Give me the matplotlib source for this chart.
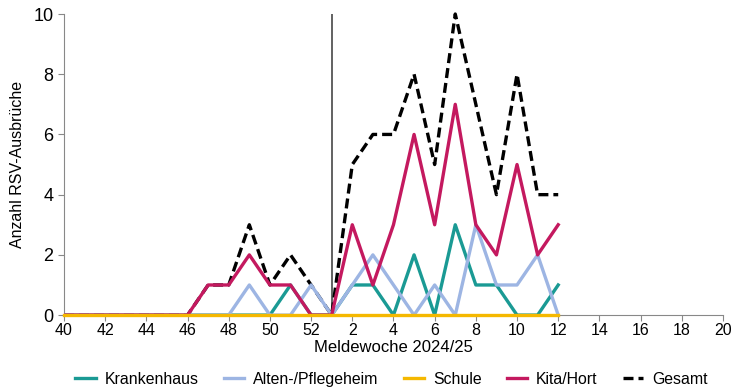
import numpy as np
import matplotlib
matplotlib.use("Agg")
import matplotlib.pyplot as plt

plt.rcParams["font.family"] = ["Liberation Sans", "DejaVu Sans"]

weeks = list(range(40, 53)) + list(range(1, 21))
tick_labels = [str(w) if w % 2 == 0 else "" for w in weeks]

# values from week 40 to week 12
krankenhaus = [0, 0, 0, 0, 0, 0, 0, 0, 0, 0, 0, 1, 0, 0, 1, 1, 0, 2, 0, 3, 1, 1, 0, 0, 1]
alten = [0, 0, 0, 0, 0, 0, 0, 0, 0, 1, 0, 0, 1, 0, 1, 2, 1, 0, 1, 0, 3, 1, 1, 2, 0]
schule = [0] * 25
kita = [0, 0, 0, 0, 0, 0, 0, 1, 1, 2, 1, 1, 0, 0, 3, 1, 3, 6, 3, 7, 3, 2, 5, 2, 3]
gesamt = [0, 0, 0, 0, 0, 0, 0, 1, 1, 3, 1, 2, 1, 0, 5, 6, 6, 8, 5, 10, 7, 4, 8, 4, 4]

x = np.arange(len(gesamt))
fig = plt.figure(figsize=(7.33, 3.89), dpi=100)
ax = fig.add_axes([0.0873, 0.19, 0.899, 0.774])

lw = 2.4
ax.plot(x, gesamt, color="black", lw=lw, ls=(0, (3, 1.5)), label="Gesamt", zorder=2.5, clip_on=False)
ax.plot(x, krankenhaus, color="#1a9a94", lw=lw, label="Krankenhaus", zorder=3)
ax.plot(x, alten, color="#9db5e3", lw=lw, label="Alten-/Pflegeheim", zorder=3)
ax.plot(x, kita, color="#c4195f", lw=lw, label="Kita/Hort", zorder=3)
ax.plot(x, schule, color="#f5b800", lw=lw, label="Schule", zorder=4, clip_on=False)
ax.axvline(13, ymin=0, ymax=1, color="#555555", lw=1.3, zorder=2)

ax.set_xlim(0, len(weeks) - 1)
ax.set_ylim(0, 10)
ax.set_xticks(np.arange(len(weeks)))
ax.set_xticklabels(tick_labels, fontsize=11.5)
ax.tick_params(axis="x", length=4, color="#888888", pad=2)
ax.tick_params(axis="y", length=4, color="#888888", labelsize=13)
# only draw tick marks at every second week
for t, lab in zip(ax.xaxis.get_major_ticks(), tick_labels):
    if lab == "":
        t.tick1line.set_visible(False)
ax.set_yticks(range(0, 11, 2))
ax.set_xlabel("Meldewoche 2024/25", fontsize=12, labelpad=1)
ax.set_ylabel("Anzahl RSV-Ausbrüche", fontsize=11.5, labelpad=6)
for s in ("top", "right"):
    ax.spines[s].set_visible(False)
for s in ("left", "bottom"):
    ax.spines[s].set_color("#888888")

h, l = ax.get_legend_handles_labels()
order = [1, 2, 4, 3, 0]
fig.legend([h[i] for i in order], [l[i] for i in order], loc="center",
           bbox_to_anchor=(0.534, 0.025), ncol=5, frameon=False, fontsize=11.4,
           handlelength=1.27, columnspacing=1.6, handletextpad=0.57, borderpad=0)
fig.savefig("out.png", dpi=100)
